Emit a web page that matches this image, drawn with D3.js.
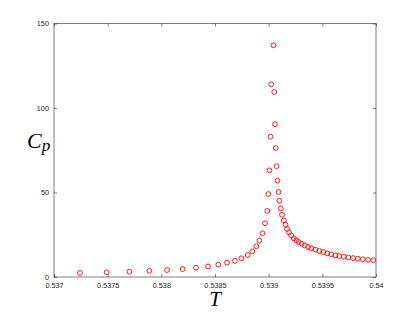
<!DOCTYPE html>
<html>
<head>
<meta charset="utf-8">
<script src="https://cdn.jsdelivr.net/npm/d3@7"></script>
<style>
  body { margin: 0; background: #fff; }
  .tick text { font-family: Helvetica, "Liberation Sans", Arial, sans-serif; font-size: 7.3px; fill: #262626; }
</style>
</head>
<body>
<div id="chart"></div>
<script>
// temperature values (T) and heat capacity (Cp)
const tValues = [
  0.537242, 0.537491, 0.537702, 0.537888, 0.538053, 0.538199, 0.538323, 0.538435,
  0.538531, 0.538612, 0.538686, 0.538745, 0.538805, 0.538848, 0.538885, 0.538913,
  0.538943, 0.538966, 0.538987, 0.538997, 0.539007, 0.539017, 0.539024, 0.539045,
  0.539052, 0.539059, 0.539066, 0.539073, 0.539082, 0.539092, 0.539099, 0.539113,
  0.539124, 0.539141, 0.539157, 0.539171, 0.539190, 0.539210, 0.539233, 0.539258,
  0.539280, 0.539308, 0.539336, 0.539367, 0.539397, 0.539435, 0.539472, 0.539509,
  0.539546, 0.539584, 0.539621, 0.539658, 0.539699, 0.539742, 0.539786, 0.539830,
  0.539876, 0.539926, 0.539975
]
const cpValues = [
  2.4, 2.8, 3.1, 3.7, 4.1, 4.7, 5.5, 6.3,
  7.3, 8.5, 9.6, 11.1, 13.0, 15.2, 18.2, 21.5,
  25.9, 31.8, 39.1, 49.1, 63.1, 83.0, 114.0, 137.1,
  109.5, 90.4, 76.3, 65.6, 57.0, 50.3, 45.1, 40.6,
  36.8, 33.5, 30.9, 28.5, 26.4, 24.6, 22.9, 21.7,
  20.7, 19.7, 18.7, 17.8, 17.0, 16.2, 15.4, 14.8,
  14.0, 13.4, 12.8, 12.4, 12.0, 11.6, 11.2, 10.8,
  10.5, 10.1, 9.9
]
const xTicks = [0.537, 0.5375, 0.538, 0.5385, 0.539, 0.5395, 0.54]
const xTickLabels = ["0.537", "0.5375", "0.538", "0.5385", "0.539", "0.5395", "0.54"]
const yTicks = [0, 50, 100, 150]

const W = 415, H = 312
const margin = {top: 23.5, right: 39, bottom: 35, left: 54}
const width = W - margin.left - margin.right,
    height = H - margin.top - margin.bottom

const svg = d3.select('#chart')
    .append('svg')
    .attr('width', W)
    .attr('height', H)

const g = svg.append('g')
    .attr('transform', 'translate(' + margin.left + ',' + margin.top + ')')

const x = d3.scaleLinear().domain([0.537, 0.54]).range([0, width])
const y = d3.scaleLinear().domain([0, 150]).range([height, 0])

const axisColor = '#262626'

// box
g.append('rect')
    .attr('x', 0).attr('y', 0)
    .attr('width', width).attr('height', height)
    .attr('fill', 'none')
    .attr('stroke', axisColor)
    .attr('stroke-width', 0.6)

// bottom axis, ticks pointing inside
const xAxis = g.append('g')
    .attr('transform', 'translate(0,' + height + ')')
    .call(d3.axisBottom(x).tickValues(xTicks).tickSize(-3).tickPadding(5.5)
        .tickFormat((d, i) => xTickLabels[i]))
xAxis.select('.domain').remove()
xAxis.selectAll('.tick line').attr('stroke', axisColor).attr('stroke-width', 0.6)

// top ticks
const xTop = g.append('g')
    .call(d3.axisTop(x).tickValues(xTicks).tickSize(-3).tickFormat(''))
xTop.select('.domain').remove()
xTop.selectAll('.tick line').attr('stroke', axisColor).attr('stroke-width', 0.6)

// left axis
const yAxis = g.append('g')
    .call(d3.axisLeft(y).tickValues(yTicks).tickSize(-3).tickPadding(5))
yAxis.select('.domain').remove()
yAxis.selectAll('.tick line').attr('stroke', axisColor).attr('stroke-width', 0.6)

// right ticks
const yRight = g.append('g')
    .attr('transform', 'translate(' + width + ',0)')
    .call(d3.axisRight(y).tickValues(yTicks).tickSize(-3).tickFormat(''))
yRight.select('.domain').remove()
yRight.selectAll('.tick line').attr('stroke', axisColor).attr('stroke-width', 0.6)

// data points
const points = tValues.map((t, i) => ({t: t, cp: cpValues[i]}))
g.selectAll('circle.pt')
    .data(points)
    .join('circle')
    .attr('class', 'pt')
    .attr('cx', d => x(d.t))
    .attr('cy', d => y(d.cp))
    .attr('r', 2.4)
    .attr('fill', 'none')
    .attr('stroke', '#ff0000')
    .attr('stroke-width', 0.9)

// axis labels (italic serif like LaTeX)
svg.append('text')
    .attr('x', margin.left + width / 2)
    .attr('y', 306)
    .attr('text-anchor', 'middle')
    .attr('font-family', '"Liberation Serif", "Times New Roman", serif')
    .attr('font-style', 'italic')
    .attr('font-size', 21)
    .attr('fill', '#000')
    .text('T')

const cp = svg.append('text')
    .attr('x', 27)
    .attr('y', 148)
    .attr('font-family', '"Liberation Serif", "Times New Roman", serif')
    .attr('font-style', 'italic')
    .attr('font-size', 22)
    .attr('fill', '#000')
cp.append('tspan').text('C')
cp.append('tspan').attr('dy', 3).attr('font-size', 17).text('p')
</script>
</body>
</html>
